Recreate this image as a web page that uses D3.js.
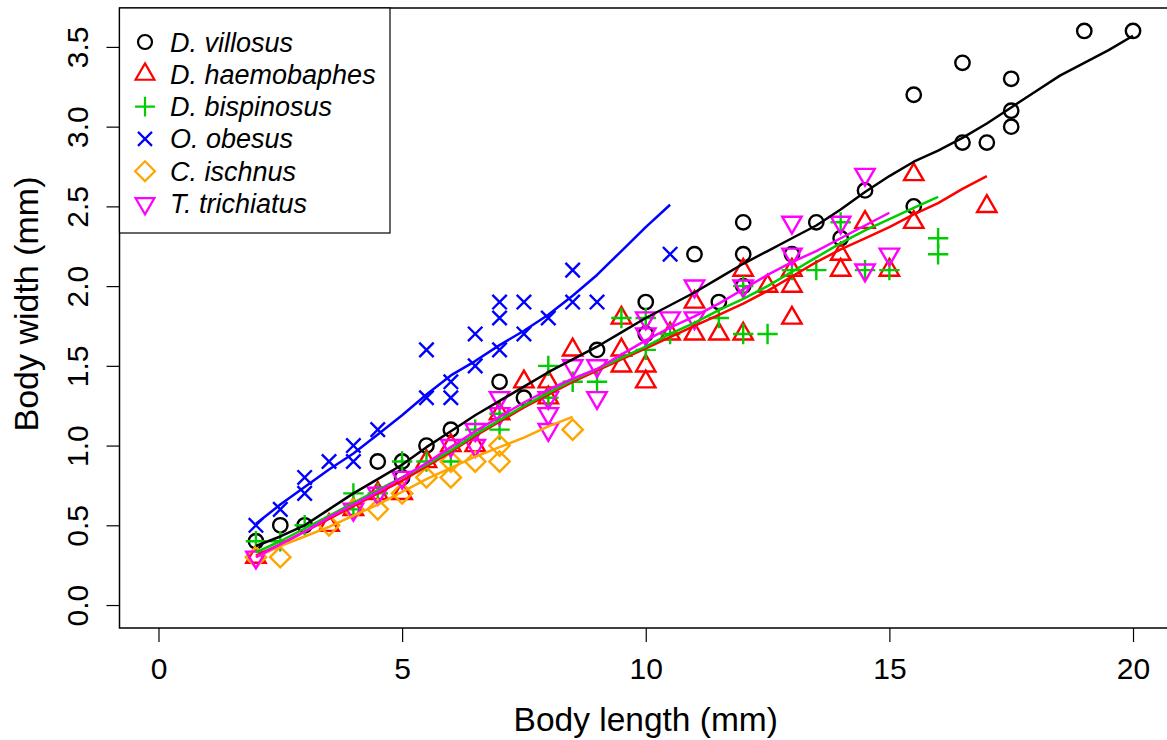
<!DOCTYPE html>
<html>
<head>
<meta charset="utf-8">
<script src="https://cdn.jsdelivr.net/npm/d3@7"></script>
<style>
  body { margin: 0; background: #fff; }
  text { font-family: "Liberation Sans", Arial, sans-serif; }
</style>
</head>
<body>
<div class="chart"></div>
<script>
// species, in legend order
const species = ['D. villosus', 'D. haemobaphes', 'D. bispinosus', 'O. obesus', 'C. ischnus', 'T. trichiatus']
const colors = ['#000000', '#FF0000', '#00CD00', '#0000FF', '#FFA500', '#FF00FF']
const shapes = ['circle', 'triangleUp', 'plus', 'cross', 'diamond', 'triangleDown']

// measured points [length, width] in mm
const villosus = [[2, 0.4], [2.5, 0.5], [3, 0.5], [4.5, 0.9], [5, 0.8], [5, 0.9], [5.5, 1.0], [6, 1.1], [7, 1.4], [7.5, 1.3],
  [9, 1.6], [10, 1.9], [10, 1.7], [11, 2.2], [11.5, 1.9], [12, 2.4], [12, 2.2], [12, 2.0], [13, 2.2], [13.5, 2.4],
  [14, 2.3], [14.5, 2.6], [15.5, 2.5], [15.5, 3.2], [16.5, 3.4], [16.5, 2.9], [17, 2.9], [17.5, 3.3], [17.5, 3.1],
  [17.5, 3.0], [19, 3.6], [20, 3.6]]
const haemobaphes = [[2, 0.3], [3.5, 0.5], [4, 0.6], [4.5, 0.7], [5, 0.7], [5.5, 0.9], [6, 1.0], [6.5, 1.0], [7, 1.2],
  [7.5, 1.4], [8, 1.4], [8, 1.3], [8.5, 1.6], [9.5, 1.8], [9.5, 1.6], [9.5, 1.5], [10, 1.5], [10, 1.4], [10.5, 1.7],
  [11, 1.9], [11, 1.7], [11.5, 1.7], [12, 2.1], [12, 1.7], [12.5, 2.0], [13, 2.1], [13, 2.0], [13, 1.8], [14, 2.2],
  [14, 2.1], [14.5, 2.4], [15, 2.1], [15.5, 2.7], [15.5, 2.4], [17, 2.5]]
const bispinosus = [[2, 0.4], [2.5, 0.4], [3, 0.5], [4, 0.7], [4, 0.6], [4.5, 0.7], [5, 0.9], [5.5, 0.9], [6, 0.9],
  [6.5, 1.1], [7, 1.1], [7, 1.2], [8, 1.5], [8, 1.3], [8.5, 1.4], [9, 1.4], [9.5, 1.8], [10, 1.8], [10, 1.6],
  [10.5, 1.7], [11.5, 1.8], [12, 2.0], [12, 1.7], [12.5, 1.7], [13, 2.1], [13.5, 2.1], [14, 2.4], [14.5, 2.1],
  [15, 2.1], [16, 2.3], [16, 2.2]]
const obesus = [[2, 0.5], [2.5, 0.6], [3, 0.8], [3, 0.7], [3.5, 0.9], [4, 1.0], [4, 0.9], [4.5, 1.1], [5.5, 1.6],
  [5.5, 1.3], [6, 1.4], [6, 1.3], [6.5, 1.7], [6.5, 1.5], [7, 1.9], [7, 1.8], [7, 1.6], [7.5, 1.9], [7.5, 1.7],
  [8, 1.8], [8.5, 2.1], [8.5, 1.9], [9, 1.9], [10.5, 2.2]]
const ischnus = [[2, 0.3], [2.5, 0.3], [3.5, 0.5], [4, 0.6], [4.5, 0.6], [5, 0.7], [5.5, 0.8], [6, 0.8], [6, 0.9],
  [6.5, 0.9], [7, 1.0], [7, 0.9], [8.5, 1.1]]
const trichiatus = [[2, 0.3], [4, 0.6], [4.5, 0.7], [5, 0.8], [6, 1.0], [6.5, 1.1], [6.5, 1.0], [7, 1.3], [7, 1.2],
  [8, 1.3], [8, 1.2], [8, 1.1], [8.5, 1.5], [9, 1.5], [9, 1.3], [10, 1.8], [10, 1.7], [10.5, 1.8], [11, 2.0],
  [11, 1.8], [12, 2.0], [13, 2.4], [13, 2.2], [14, 2.4], [14.5, 2.7], [14.5, 2.1], [15, 2.2]]
const points = [villosus, haemobaphes, bispinosus, obesus, ischnus, trichiatus]

// smoothed curves, every 0.5 mm
const villosusFit = [0.37, 0.43, 0.50, 0.60, 0.70, 0.79, 0.88, 0.99, 1.09, 1.19, 1.28, 1.37, 1.46, 1.54, 1.62, 1.71,
  1.80, 1.88, 1.96, 2.05, 2.14, 2.22, 2.30, 2.38, 2.48, 2.59, 2.69, 2.78, 2.85, 2.93, 3.02, 3.12, 3.22, 3.32, 3.40,
  3.48, 3.57]
const haemobaphesFit = [0.31, 0.38, 0.46, 0.54, 0.62, 0.70, 0.78, 0.87, 0.96, 1.06, 1.15, 1.24, 1.32, 1.40, 1.47,
  1.54, 1.61, 1.68, 1.75, 1.82, 1.89, 1.97, 2.06, 2.15, 2.23, 2.30, 2.37, 2.45, 2.52, 2.61, 2.69]
const bispinosusFit = [0.33, 0.40, 0.48, 0.56, 0.64, 0.72, 0.80, 0.88, 0.97, 1.07, 1.16, 1.25, 1.33, 1.41, 1.48,
  1.55, 1.62, 1.70, 1.77, 1.85, 1.92, 2.00, 2.09, 2.18, 2.27, 2.35, 2.42, 2.49, 2.56]
const obesusFit = [0.51, 0.63, 0.74, 0.85, 0.95, 1.07, 1.19, 1.32, 1.44, 1.53, 1.63, 1.72, 1.82, 1.94, 2.07, 2.22,
  2.37, 2.51]
const ischnusFit = [0.30, 0.37, 0.43, 0.49, 0.56, 0.63, 0.71, 0.79, 0.86, 0.93, 0.99, 1.05, 1.12, 1.18]
const trichiatusFit = [0.30, 0.38, 0.46, 0.55, 0.63, 0.71, 0.80, 0.89, 0.99, 1.09, 1.18, 1.27, 1.35, 1.42, 1.48,
  1.57, 1.66, 1.74, 1.81, 1.89, 1.98, 2.07, 2.15, 2.22, 2.30, 2.38, 2.46]
const fits = [villosusFit, haemobaphesFit, bispinosusFit, obesusFit, ischnusFit, trichiatusFit]
const fitStart = 2
const fitStep = 0.5

const xTicks = [0, 5, 10, 15, 20]
const yTicks = [0, 0.5, 1, 1.5, 2, 2.5, 3, 3.5]

const width = 1167
const height = 740

const x = d3.scaleLinear().domain([-0.8, 20.8]).range([119.5, 1172])
const y = d3.scaleLinear().domain([-0.144, 3.744]).range([628, 8])

// R-like plotting symbols, R = circle radius
function symbolPath(shape, R) {
  const p = d3.path()
  if (shape === 'circle') {
    p.moveTo(R, 0)
    p.arc(0, 0, R, 0, 2 * Math.PI)
  } else if (shape === 'triangleUp' || shape === 'triangleDown') {
    const s = shape === 'triangleUp' ? 1 : -1
    const r = 1.555 * R
    const xc = 1.347 * R
    const yc = 0.778 * R
    p.moveTo(0, -s * r)
    p.lineTo(xc, s * yc)
    p.lineTo(-xc, s * yc)
    p.closePath()
  } else if (shape === 'plus') {
    const c = Math.SQRT2 * R
    p.moveTo(-c, 0); p.lineTo(c, 0)
    p.moveTo(0, -c); p.lineTo(0, c)
  } else if (shape === 'cross') {
    p.moveTo(-R, -R); p.lineTo(R, R)
    p.moveTo(-R, R); p.lineTo(R, -R)
  } else if (shape === 'diamond') {
    const c = Math.SQRT2 * R
    p.moveTo(-c, 0); p.lineTo(0, -c); p.lineTo(c, 0); p.lineTo(0, c)
    p.closePath()
  }
  return p.toString()
}

const svg = d3.select('.chart')
  .append('svg')
  .attr('width', width)
  .attr('height', height)

const plot = svg.append('g')

// points
points.forEach((pts, i) => {
  plot.append('g')
    .selectAll('path')
    .data(pts)
    .enter()
    .append('path')
    .attr('d', symbolPath(shapes[i], 7.2))
    .attr('transform', d => 'translate(' + x(d[0]) + ',' + y(d[1]) + ')')
    .style('fill', 'none')
    .style('stroke', colors[i])
    .style('stroke-width', 2.4)
})

// smooth lines
const line = d3.line()
  .x((d, j) => x(fitStart + j * fitStep))
  .y(d => y(d))

fits.forEach((f, i) => {
  plot.append('path')
    .datum(f)
    .attr('d', line)
    .style('fill', 'none')
    .style('stroke', colors[i])
    .style('stroke-width', 2.5)
    .style('stroke-linejoin', 'round')
})

// box
svg.append('rect')
  .attr('x', x(-0.8))
  .attr('y', y(3.744))
  .attr('width', x(20.8) - x(-0.8))
  .attr('height', y(-0.144) - y(3.744))
  .style('fill', 'none')
  .style('stroke', '#000')
  .style('stroke-width', 1.5)

// x axis
const xAxis = svg.append('g')
  .attr('transform', 'translate(0,' + y(-0.144) + ')')
  .call(d3.axisBottom(x).tickValues(xTicks).tickSize(14).tickPadding(16).tickFormat(d3.format('d')))
xAxis.select('.domain').remove()
xAxis.selectAll('text').style('font-size', '30px').style('fill', '#000')
xAxis.selectAll('line').style('stroke-width', 1.2)

// y axis
const yAxis = svg.append('g')
  .attr('transform', 'translate(' + x(-0.8) + ',0)')
  .call(d3.axisLeft(y).tickValues(yTicks).tickSize(13).tickFormat(d3.format('.1f')))
yAxis.select('.domain').remove()
yAxis.selectAll('line').style('stroke-width', 1.2)
yAxis.selectAll('text')
  .attr('x', null)
  .attr('dy', null)
  .attr('transform', 'translate(-32,0) rotate(-90)')
  .style('text-anchor', 'middle')
  .style('font-size', '30px')
  .style('fill', '#000')

// axis titles
svg.append('text')
  .attr('transform', 'translate(' + (x(-0.8) + x(20.8)) / 2 + ',' + 731 + ')')
  .style('text-anchor', 'middle')
  .style('font-size', '33.5px')
  .text('Body length (mm)')

svg.append('text')
  .attr('transform', 'translate(38,304) rotate(-90)')
  .style('text-anchor', 'middle')
  .style('font-size', '34px')
  .text('Body width (mm)')

// legend
const legend = svg.append('g')
legend.append('rect')
  .attr('x', x(-0.8))
  .attr('y', y(3.744))
  .attr('width', 390 - x(-0.8))
  .attr('height', 233 - y(3.744))
  .style('fill', '#fff')
  .style('stroke', '#000')
  .style('stroke-width', 1.2)

species.forEach((name, i) => {
  const ly = 42 + i * 32.3
  legend.append('path')
    .attr('d', symbolPath(shapes[i], 7))
    .attr('transform', 'translate(145,' + ly + ')')
    .style('fill', 'none')
    .style('stroke', colors[i])
    .style('stroke-width', 2.2)
  legend.append('text')
    .attr('x', 170)
    .attr('y', ly + 9.5)
    .style('font-size', '27px')
    .style('font-style', 'italic')
    .text(name)
})
</script>
</body>
</html>
